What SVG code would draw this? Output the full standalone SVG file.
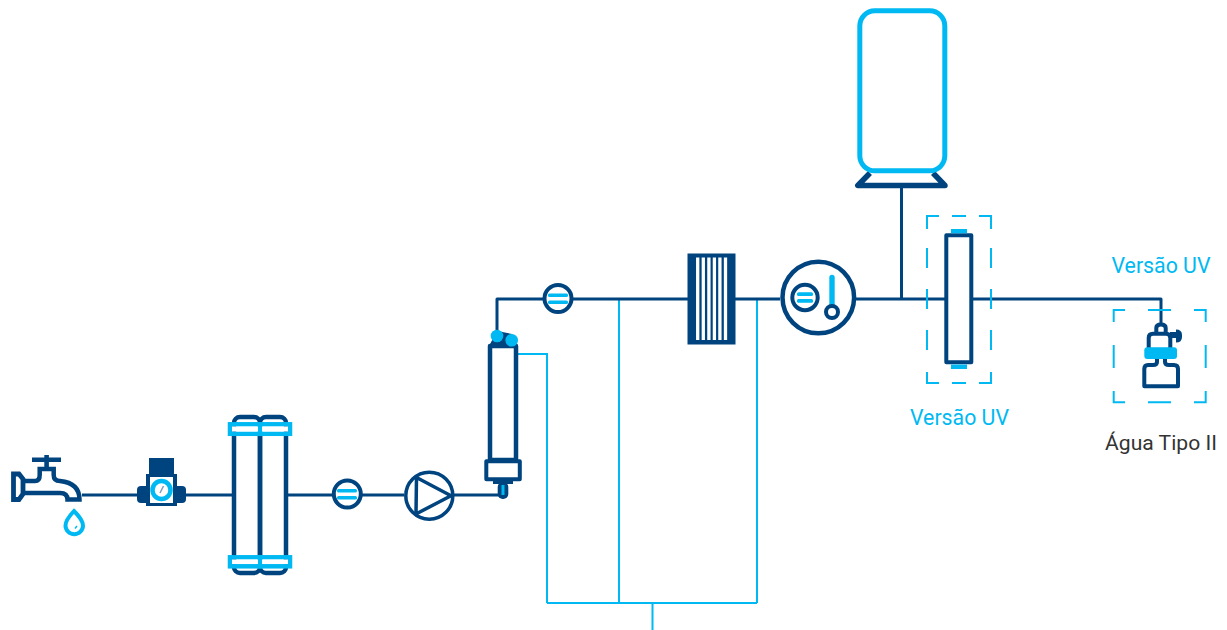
<svg xmlns="http://www.w3.org/2000/svg" width="1227" height="630" viewBox="0 0 1227 630">
<style>
.n{fill:none;stroke:#00447f;stroke-linejoin:round}
.c{fill:none;stroke:#00b9f2}
.nf{fill:#00447f}
.cf{fill:#00b9f2}
.d{fill:none;stroke:#00b9f2;stroke-width:2}
.t{font-family:Roboto,"Liberation Sans",sans-serif;font-size:21.300px;fill:#00b9f2;text-anchor:middle}
.l{stroke-width:3}
.w{fill:#fff}
</style>
<g id="connectors">
<path class="c" stroke-width="2" d="M518,354H547V603M619,299V603M757,299V603M547,603H757M652.500,603V630"/>
<path class="n l" d="M82,495H137M185,495H232M288,495H333M361,495H404M454,495H503M497,336V299H543M572,299H688M735,299H780M856,299H945M901.500,188V299M973,299H1161V325"/>
</g>
<g id="faucet">
<path class="n" stroke-width="4.800" style="stroke-linejoin:miter" d="M13.500,474H19L23,479V494L19,499.500H13.500Z"/>
<path class="n" stroke-width="4.500" style="stroke-linejoin:miter" d="M25,481H35Q39.700,481 39.700,475V469H53.700V475Q53.700,481 60,481Q79.500,483 79.500,499.500H67.500Q67.500,493 60,493H25"/>
<path class="n" stroke-width="4.600" d="M32,459.700H61M46.600,455V468"/>
<path class="c" stroke-width="4" style="stroke-linejoin:miter" fill="#fff" d="M74,511Q65.500,520 65.500,525.500A8.500,8.500 0 0 0 83,525.500Q83,520 74,511Z"/>
<path class="c" stroke-width="1.500" d="M75,528.500L77,526"/>
</g>
<g id="regulator">
<rect class="nf" x="149" y="458" width="25" height="20"/>
<rect class="nf" x="146" y="474" width="31" height="32"/>
<rect class="nf" x="137" y="486" width="49" height="17" rx="4"/>
<rect class="w" x="150" y="477" width="23" height="26"/>
<circle class="c" stroke-width="4.500" cx="161.500" cy="490" r="9"/>
<path stroke="#7f9fbf" stroke-width="1.500" d="M160,493L163.500,486"/>
</g>
<g id="filters">
<rect class="n" stroke-width="4.500" x="234" y="417" width="26" height="156" rx="6"/>
<rect class="n" stroke-width="4.500" x="260" y="417" width="26" height="156" rx="6"/>
<g class="c" stroke-width="4.500">
<rect x="230" y="424.300" width="30" height="9.500"/>
<rect x="260" y="424.300" width="30" height="9.500"/>
<rect x="230" y="557.300" width="30" height="9"/>
<rect x="260" y="557.300" width="30" height="9"/>
</g>
<path fill="#fff" d="M232,426.500H258V431.500H232ZM262,426.500H288V431.500H262ZM232,559.500H258V564H232ZM262,559.500H288V564H262Z"/>
</g>
<g id="flow1">
<circle class="n" stroke-width="4" cx="347.300" cy="494" r="13.500" style="fill:#fff"/>
<rect class="cf" x="337" y="489" width="20" height="3.500" rx="1.500"/>
<rect class="cf" x="337" y="496" width="20" height="3.500" rx="1.500"/>
</g>
<g id="pump">
<circle class="n" stroke-width="3.500" cx="429.300" cy="495.700" r="23.500"/>
<path class="n" stroke-width="3.500" d="M416.500,477.500L451,495.700L416,514Z"/>
</g>
<g id="module">
<path class="nf" d="M489,346L497,331L512,334L518,346Z"/>
<rect class="n" stroke-width="4.500" x="490" y="346" width="26" height="114" style="fill:#fff"/>
<rect class="n" stroke-width="4" x="486.300" y="461.300" width="33.500" height="18" style="fill:#fff"/>
<rect class="nf" x="493" y="480" width="20" height="4"/>
<rect class="nf" x="497.700" y="482" width="10.600" height="17" rx="5"/>
<rect class="cf" x="501.500" y="485" width="3" height="10"/>
<circle class="cf" cx="497" cy="336" r="6.300"/>
<circle class="cf" cx="511.700" cy="340.300" r="6.300"/>
</g>
<g id="flow2">
<circle class="n" stroke-width="4" cx="558" cy="298.500" r="13.500"/>
<rect class="cf" x="548" y="293.500" width="20" height="3.500" rx="1.500"/>
<rect class="cf" x="548" y="300.500" width="20" height="3.500" rx="1.500"/>
</g>
<g id="edi">
<rect class="nf" x="687.500" y="253.500" width="48" height="91"/>
<path stroke="#fff" stroke-width="3.300" d="M697.700,257.500V340M703.300,257.500V340M708.900,257.500V340M714.400,257.500V340M719.900,257.500V340M725.500,257.500V340"/>
</g>
<g id="sensor">
<circle class="n" stroke-width="4.500" cx="818.300" cy="297.500" r="35.800" style="fill:#fff"/>
<circle class="n" stroke-width="4" cx="805" cy="297.500" r="12.700"/>
<rect class="cf" x="797" y="292.300" width="16" height="3.700" rx="1.500"/>
<rect class="cf" x="797" y="299" width="16" height="3.800" rx="1.500"/>
<path class="c" stroke-width="5.400" stroke-linecap="round" d="M832,277.500V305"/>
<circle class="n" stroke-width="4" cx="832" cy="312" r="6" style="fill:#fff"/>
</g>
<g id="tank">
<path class="n" stroke-width="5.500" d="M870,173L857.800,185.500H945L933,173"/>
<rect class="c" stroke-width="5" fill="#fff" x="859.800" y="10.800" width="85" height="160" rx="15"/>
</g>
<g id="uv">
<path class="d" d="M927,229V216H939M952,216H966M979,216H991V229M927,248V268M927,289V309M927,330V350M927,372V383H939M952,383H966M979,383H991V372M991,330V350M991,289V309M991,248V268"/>
<rect class="n" stroke-width="4" x="946.300" y="235.300" width="25" height="127" style="fill:#fff"/>
<rect class="cf" x="951" y="229" width="16" height="4.300"/>
<rect class="cf" x="951" y="364.500" width="16" height="4.500"/>
</g>
<g id="outlet">
<path class="d" d="M1113.700,322V310H1125M1148,310H1171M1194,310H1205.700V322M1113.700,345V368M1205.700,345V368M1113.700,391V402.300H1125M1148,402.300H1171M1194,402.300H1205.700V391"/>
<path class="n" stroke-width="4" style="fill:#fff" d="M1156.300,332V328Q1156.300,324.500 1161,324.500Q1165.700,324.500 1165.700,328V332"/>
<path class="n" stroke-width="4" style="fill:#fff" d="M1148.700,349V338Q1148.700,333.700 1153,333.700H1166Q1170.300,333.700 1170.300,338V349"/>
<path class="nf" d="M1170,332H1176V329.500Q1182,329.500 1182,335V337Q1182,342.500 1176,342.500V338H1170Z"/>
<path class="n" stroke-width="4" style="fill:#fff" d="M1157,358V362Q1157,365 1153,365H1148Q1144.300,365 1144.300,369V386.300H1178V369Q1178,365 1174,365H1169Q1165,365 1165,362V358"/>
<rect class="cf" x="1144.300" y="347.300" width="32.700" height="11.700" rx="3"/>
</g>
<g id="labels">
<text class="t" x="1161" y="272.500">Versão UV</text>
<text class="t" x="959.500" y="425">Versão UV</text>
<text class="t" x="1161" y="450" style="fill:#333;font-size:21.100px">Água Tipo II</text>
</g>
</svg>
